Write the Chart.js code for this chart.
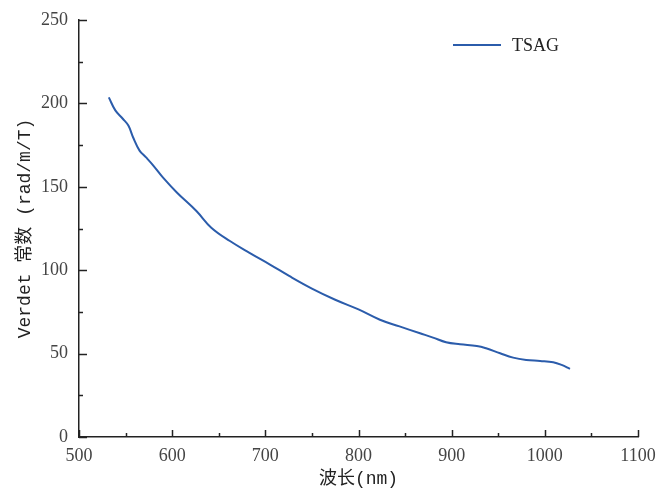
<!DOCTYPE html>
<html>
<head>
<meta charset="utf-8">
<script src="https://cdn.jsdelivr.net/npm/chart.js@4.4.1/dist/chart.umd.min.js"></script>
<style>
  body { margin: 0; background: #fff; }
  canvas { display: block; }
</style>
</head>
<body>
<canvas id="verdetChart" width="658" height="490"></canvas>
<script>
// wavelength (nm) and Verdet constant (rad/m/T)
const wavelength = [532, 539, 547, 553, 558, 565, 572, 580, 590, 605, 626, 642, 662, 683, 705, 726, 750, 775, 800, 823, 844, 866, 880, 894, 909, 927, 937, 952, 966, 980, 995, 1009, 1018, 1027];
const verdet = [203.6, 195.8, 190.8, 186.7, 179.7, 171.7, 167.6, 162.6, 155.6, 146.6, 135.5, 125.5, 117.5, 110.4, 103.4, 96.4, 89, 82.3, 76.5, 70.3, 66.3, 62.2, 59.6, 56.8, 55.6, 54.6, 53.2, 50.2, 47.6, 46.2, 45.6, 44.8, 43.2, 40.8];
const xTicks = [500, 600, 700, 800, 900, 1000, 1100];
const yTicks = [0, 50, 100, 150, 200, 250];
const seriesName = 'TSAG';

const lineColor = '#2b5cab';
const axisColor = '#222';
const serif = '"Liberation Serif", "Times New Roman", serif';
const titleFont = '"Liberation Mono", "Noto Sans CJK SC", monospace';

// inward ticks (major + minor) and the legend inside the plot
const decor = {
    id: 'decor',
    afterDraw(chart) {
        const ctx = chart.ctx;
        const area = chart.chartArea;
        const xs = chart.scales.x;
        const ys = chart.scales.y;
        ctx.save();
        ctx.strokeStyle = axisColor;
        ctx.lineWidth = 1.5;
        for (let v = 500; v <= 1100; v += 50) {
            const px = Math.round(xs.getPixelForValue(v)) + 0.5;
            const len = (v % 100 === 0) ? 7 : 4;
            ctx.beginPath();
            ctx.moveTo(px, area.bottom);
            ctx.lineTo(px, area.bottom - len);
            ctx.stroke();
        }
        for (let v = 0; v <= 250; v += 25) {
            const py = Math.round(ys.getPixelForValue(v)) + 0.5;
            const len = (v % 50 === 0) ? 8 : 4;
            ctx.beginPath();
            ctx.moveTo(area.left, py);
            ctx.lineTo(area.left + len, py);
            ctx.stroke();
        }
        // legend
        const lx = area.left + 374;
        const ly = area.top + 25;
        ctx.strokeStyle = lineColor;
        ctx.lineWidth = 2;
        ctx.beginPath();
        ctx.moveTo(lx, ly);
        ctx.lineTo(lx + 48, ly);
        ctx.stroke();
        ctx.fillStyle = '#222';
        ctx.font = '18px ' + serif;
        ctx.textBaseline = 'middle';
        ctx.fillText(seriesName, lx + 59, ly + 1);
        ctx.restore();
    }
};

new Chart(document.getElementById('verdetChart'), {
    type: 'line',
    data: {
        datasets: [{
            label: seriesName,
            data: wavelength.map((w, i) => ({ x: w, y: verdet[i] })),
            borderColor: lineColor,
            borderWidth: 2,
            pointRadius: 0,
            tension: 0.4,
            fill: false
        }]
    },
    options: {
        responsive: false,
        animation: false,
        layout: { padding: { top: 20, left: 14, right: 0, bottom: 0 } },
        plugins: {
            legend: { display: false },
            tooltip: { enabled: false }
        },
        scales: {
            x: {
                type: 'linear',
                min: 500,
                max: 1100,
                afterBuildTicks: s => { s.ticks = xTicks.map(v => ({ value: v })); },
                afterFit: s => { s.height = 53; s.paddingRight = 20; },
                grid: { display: false, drawTicks: false },
                border: { display: true, color: axisColor, width: 1.5 },
                ticks: {
                    color: '#444', padding: 8, maxRotation: 0,
                    font: { family: serif, size: 18 },
                    callback: v => String(v)
                },
                title: {
                    display: true,
                    text: '波长(nm)',
                    color: '#222',
                    padding: { top: 2, bottom: 0 },
                    font: { family: titleFont, size: 18 }
                }
            },
            y: {
                min: 0,
                max: 250,
                afterBuildTicks: s => { s.ticks = yTicks.map(v => ({ value: v })); },
                afterFit: s => { s.width = 65; s.paddingTop = 0; s.paddingBottom = 0; },
                grid: { display: false, drawTicks: false },
                border: { display: true, color: axisColor, width: 1.5 },
                ticks: {
                    color: '#444', padding: 11,
                    font: { family: serif, size: 18 },
                    callback: v => String(v)
                },
                title: {
                    display: true,
                    text: 'Verdet 常数 (rad/m/T)',
                    color: '#222',
                    padding: { top: 0, bottom: 6 },
                    font: { family: titleFont, size: 18 }
                }
            }
        }
    },
    plugins: [decor]
});
</script>
</body>
</html>
